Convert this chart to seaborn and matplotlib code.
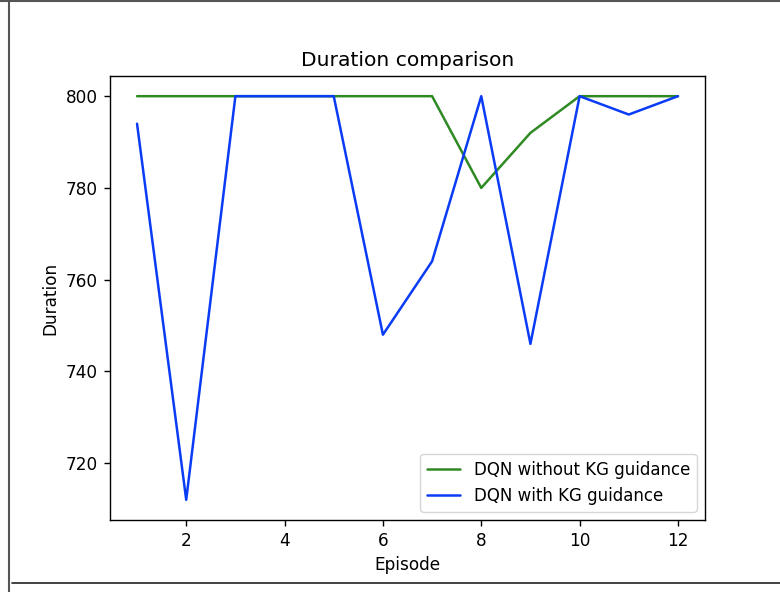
import matplotlib
matplotlib.use("Agg")
import matplotlib.pyplot as plt
import seaborn as sns
import pandas as pd
from matplotlib.lines import Line2D

episodes = [1, 2, 3, 4, 5, 6, 7, 8, 9, 10, 11, 12]
without_kg = [800, 800, 800, 800, 800, 800, 800, 780, 792, 800, 800, 800]
with_kg = [794, 712, 800, 800, 800, 748, 764, 800, 746, 800, 796, 800]
labels = ["DQN without KG guidance", "DQN with KG guidance"]
colors = ["#2f8a24", "#0a3cf5"]

df = pd.DataFrame({
    "Episode": episodes * 2,
    "Duration": without_kg + with_kg,
    "Series": [labels[0]] * len(episodes) + [labels[1]] * len(episodes),
})

sns.set_style("ticks")
plt.rcParams["font.family"] = ["DejaVu Sans"]
plt.rcParams["text.color"] = "black"
plt.rcParams["axes.labelcolor"] = "black"
plt.rcParams["xtick.color"] = "black"
plt.rcParams["ytick.color"] = "black"

W, H = 780, 592
fig = plt.figure(figsize=(W / 100, H / 100), dpi=100)
ax = fig.add_axes([110 / W, 1 - 520 / H, (705 - 110) / W, (520 - 76) / H])

sns.lineplot(data=df, x="Episode", y="Duration", hue="Series",
             palette=dict(zip(labels, colors)), ax=ax, linewidth=1.8)

ax.set_title("Duration comparison", fontsize=14.6, pad=7.5)
ax.set_xlabel("Episode", fontsize=12.2, labelpad=4.5)
ax.set_ylabel("Duration", fontsize=12.2, labelpad=4.5)
ax.set_xticks([2, 4, 6, 8, 10, 12])
ax.set_yticks([720, 740, 760, 780, 800])
ax.tick_params(labelsize=12.2, length=4.3, width=1.0, pad=4.3)
for s in ax.spines.values():
    s.set_visible(True)
    s.set_linewidth(1.0)
    s.set_color("black")
leg = ax.legend(loc="lower right", fontsize=12, frameon=True)
leg.set_title(None)

# screenshot frame lines
fig.add_artist(Line2D([0, 1], [1 - 1 / H, 1 - 1 / H], transform=fig.transFigure, color="#555555", lw=1.5))
fig.add_artist(Line2D([8.5 / W, 8.5 / W], [0, 1], transform=fig.transFigure, color="#555555", lw=1.5))
fig.add_artist(Line2D([12 / W, 1], [1 - 583 / H, 1 - 583 / H], transform=fig.transFigure, color="#222222", lw=1.2))

fig.savefig("out.png", dpi=100)
